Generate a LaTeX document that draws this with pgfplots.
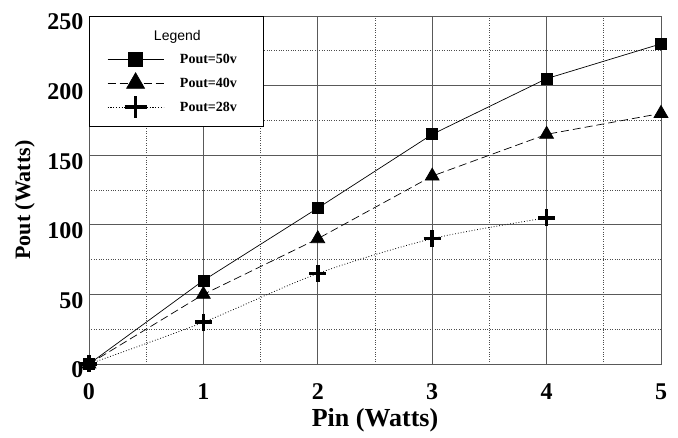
\documentclass[border=0pt]{standalone}
\usepackage{pgfplots}
\pgfplotsset{compat=1.18}
\usepackage{fontspec}
\setmainfont{Liberation Serif}
\newfontfamily\arial{Liberation Sans}
\begin{document}
\begin{tikzpicture}
\begin{axis}[
  name=ax,
  scale only axis, width=572pt, height=348pt,
  xmin=0, xmax=5, ymin=0, ymax=250,
  xtick={0,1,2,3,4,5}, ytick={0,50,100,150,200,250},
  minor x tick num=1, minor y tick num=1,
  grid=both,
  major grid style={solid, draw=black!65, line width=0.8pt},
  minor grid style={dotted, draw=black!70, line width=0.8pt},
  axis line style={draw=black!65, line width=0.8pt},
  major tick length=0pt, minor tick length=0pt,
  /pgf/number format/assume math mode=true,
  tick label style={font=\fontsize{24}{26}\selectfont\bfseries},
  xticklabel style={anchor=center, yshift=-28pt},
  yticklabel style={anchor=east, xshift=-2pt, yshift=-6pt},
  xlabel={Pin (Watts)}, ylabel={Pout (Watts)},
  xlabel style={at={(rel axis cs:0.5,-0.161)}, anchor=center, font=\fontsize{26}{28}\selectfont\bfseries},
  ylabel style={at={(rel axis cs:-0.112,0.471)}, anchor=center, font=\fontsize{22}{24}\selectfont\bfseries},
  legend style={at={(rel axis cs:0,1)}, anchor=north west, draw=black, fill=white,
    font=\fontsize{14}{16}\selectfont\bfseries, inner xsep=18pt, inner ysep=8pt,
    row sep=2pt, column sep=16pt, nodes={inner sep=0pt, minimum height=22pt},
    cells={anchor=west}},
  legend image code/.code={\draw[mark repeat=2,mark phase=2,#1,every mark/.append style={scale=1.3}] plot coordinates {(0pt,0pt)(28pt,0pt)(56pt,0pt)};},
]
\addlegendimage{empty legend}
\addlegendentry{\hspace{-26pt}\raisebox{0pt}[13pt][12pt]{\arial\mdseries Legend}}
\addplot[black, line width=0.7pt, mark=square*, mark size=5.5pt, mark options={solid}]
  coordinates {(0,0)(1,60)(2,112)(3,165)(4,205)(5,230)};
\addlegendentry{Pout=50v\hspace*{8pt}}
\addplot[black, line width=0.7pt, dash pattern=on 8pt off 4pt, mark=triangle*, mark size=8pt, mark options={solid}]
  coordinates {(0,0)(1,50)(2,90)(3,135)(4,165)(5,180)};
\addlegendentry{Pout=40v}
\addplot[black, line width=0.8pt, dotted, smooth, mark=+, mark size=8.5pt, mark options={solid, line width=3.5pt}]
  coordinates {(0,0)(1,30)(2,65)(3,90)(4,105)};
\addlegendentry{Pout=28v}
\end{axis}
\pgfresetboundingbox
\path ([shift={(-89pt,-74pt)}]ax.south west) rectangle ([shift={(17pt,16pt)}]ax.north east);
\end{tikzpicture}
\end{document}
